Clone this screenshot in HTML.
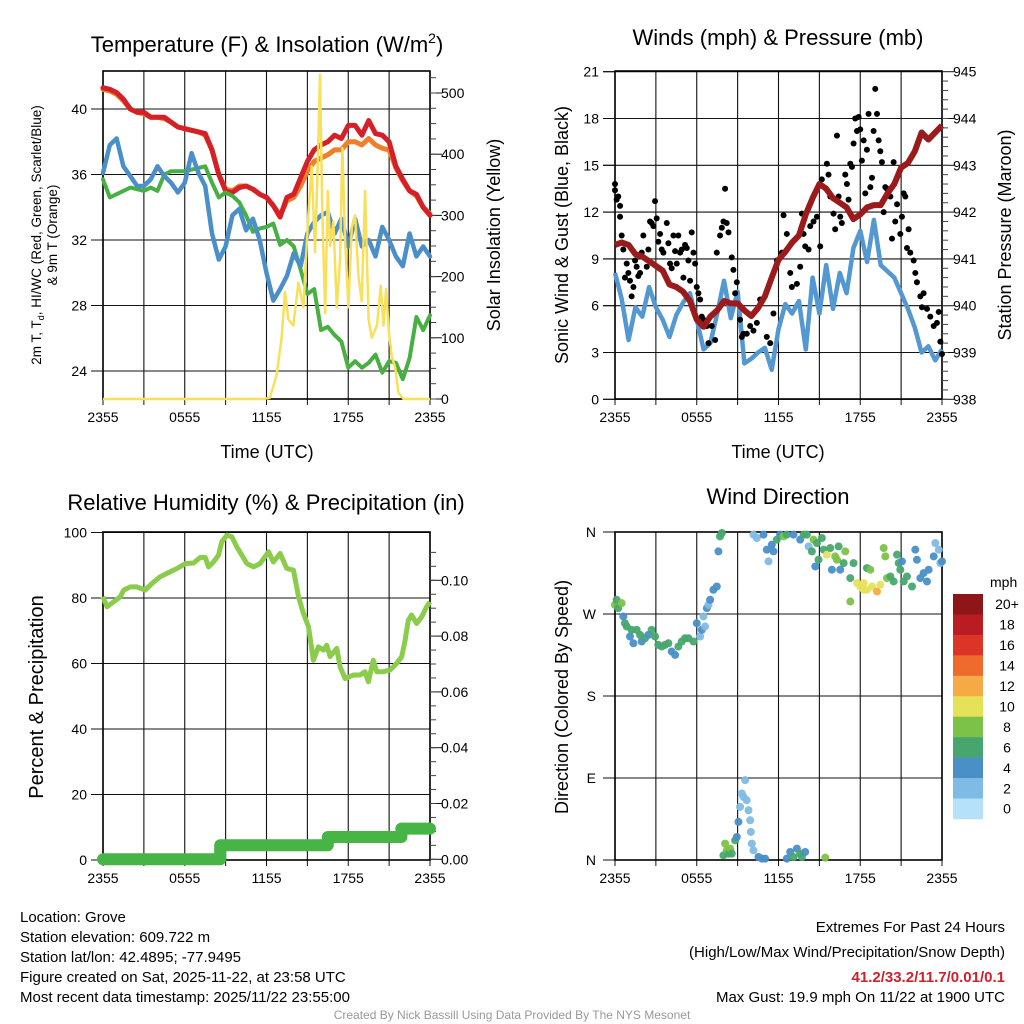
<!DOCTYPE html>
<html><head><meta charset="utf-8">
<style>
html,body{margin:0;padding:0;background:#fff;}
svg{display:block;font-family:"Liberation Sans",Arial,sans-serif;}
</style></head>
<body>
<svg id="fig" width="1024" height="1024" viewBox="0 0 1024 1024" xmlns="http://www.w3.org/2000/svg">
<rect width="1024" height="1024" fill="#fff"/>
<g id="g-tl"></g>
<g id="g-tr"></g>
<g id="g-bl"></g>
<g id="g-br"></g>

<text x="267" y="52" font-size="22" text-anchor="middle">Temperature (F) &amp; Insolation (W/m<tspan font-size="14" dy="-9">2</tspan><tspan dy="9">)</tspan></text>
<text x="778" y="45" font-size="22" text-anchor="middle">Winds (mph) &amp; Pressure (mb)</text>
<text x="266" y="510" font-size="22" text-anchor="middle">Relative Humidity (%) &amp; Precipitation (in)</text>
<text x="778" y="504" font-size="22" text-anchor="middle">Wind Direction</text>

<text transform="translate(41,235) rotate(-90)" font-size="13.5" text-anchor="middle">2m T, T<tspan font-size="9" dy="3">d</tspan><tspan dy="-3">, HI/WC (Red, Green, Scarlet/Blue)</tspan></text>
<text transform="translate(57,235) rotate(-90)" font-size="13.5" text-anchor="middle">&amp; 9m T (Orange)</text>
<text transform="translate(500,235) rotate(-90)" font-size="18" text-anchor="middle">Solar Insolation (Yellow)</text>
<text x="267" y="458" font-size="18" text-anchor="middle">Time (UTC)</text>
<text transform="translate(568,235) rotate(-90)" font-size="18" text-anchor="middle">Sonic Wind &amp; Gust (Blue, Black)</text>
<text transform="translate(1011,235) rotate(-90)" font-size="18" text-anchor="middle">Station Pressure (Maroon)</text>
<text x="778" y="458" font-size="18" text-anchor="middle">Time (UTC)</text>
<text transform="translate(43,697) rotate(-90)" font-size="20" text-anchor="middle">Percent &amp; Precipitation</text>
<text transform="translate(568,697) rotate(-90)" font-size="18" text-anchor="middle">Direction (Colored By Speed)</text>

<g font-size="15">
<text x="20" y="922">Location: Grove</text>
<text x="20" y="942">Station elevation: 609.722 m</text>
<text x="20" y="962">Station lat/lon: 42.4895; -77.9495</text>
<text x="20" y="982">Figure created on Sat, 2025-11-22, at 23:58 UTC</text>
<text x="20" y="1002">Most recent data timestamp: 2025/11/22 23:55:00</text>
</g>
<g font-size="15" text-anchor="end">
<text x="1005" y="932">Extremes For Past 24 Hours</text>
<text x="1005" y="957">(High/Low/Max Wind/Precipitation/Snow Depth)</text>
<text x="1005" y="982" fill="#d0202a" font-weight="bold">41.2/33.2/11.7/0.01/0.1</text>
<text x="1005" y="1002">Max Gust: 19.9 mph On 11/22 at 1900 UTC</text>
</g>
<text x="512" y="1019" font-size="12" fill="#999" text-anchor="middle">Created By Nick Bassill Using Data Provided By The NYS Mesonet</text>
</svg>
<script>
const timeLabels = ["2355","0555","1155","1755","2355"];
const halfHours = [0,0.5,1,1.5,2,2.5,3,3.5,4,4.5,5,5.5,6,6.5,7,7.5,8,8.5,9,9.5,10,10.5,11,11.5,12,12.5,13,13.5,14,14.5,15,15.5,16,16.5,17,17.5,18,18.5,19,19.5,20,20.5,21,21.5,22,22.5,23,23.5,24];
const tempRed = [41.3,41.2,41.0,40.6,40.0,39.8,39.8,39.5,39.5,39.5,39.2,38.9,38.8,38.7,38.6,38.5,37.5,36.0,35.0,34.9,35.2,35.3,35.1,34.8,34.6,34.1,33.4,34.6,34.8,35.8,36.8,37.5,37.8,38.0,38.4,38.2,39.0,39.0,38.4,39.3,38.5,38.4,38.0,36.5,35.7,35.0,34.8,34.0,33.5];
const temp9m = [41.2,41.1,40.9,40.5,40.0,39.8,39.7,39.5,39.5,39.4,39.2,38.9,38.8,38.7,38.6,38.4,37.5,36.0,35.1,35.0,35.3,35.3,35.1,34.8,34.6,34.1,33.5,34.4,34.6,35.3,36.2,36.8,37.0,37.2,37.5,37.5,38.0,38.0,37.8,38.2,37.8,37.6,37.5,36.4,35.6,35.0,34.7,34.0,33.6];
const dewGreen = [35.7,34.6,34.8,35.0,35.2,35.1,35.0,35.2,35.0,36.0,36.2,36.2,36.2,36.3,36.4,36.5,35.5,34.6,34.9,34.7,34.3,33.5,32.5,32.7,32.8,33.0,31.7,32.0,31.6,30.2,28.7,29.0,26.5,26.7,26.2,25.8,24.2,24.6,24.2,24.5,25.0,23.9,24.6,24.5,23.5,24.8,27.3,26.5,27.4];
const windChill = [36.1,37.8,38.2,36.5,35.9,35.3,35.3,35.7,36.5,35.9,35.5,34.9,35.5,37.3,36.1,35.3,32.4,30.8,31.6,33.5,33.9,32.6,33.3,32.0,30.0,28.3,29.0,29.8,31.2,30.4,32.4,33.1,33.5,33.7,32.4,33.3,31.6,33.3,31.6,32.0,31.0,32.8,32.0,31.0,30.4,32.4,31.0,31.6,31.0];
const solarHours = [0,11.76,12.25,12.75,13.11,13.36,13.60,13.97,14.34,14.71,15.07,15.32,15.56,15.76,15.93,16.10,16.31,16.50,16.67,16.91,17.16,17.40,17.57,17.77,18.01,18.26,18.50,18.75,18.99,19.24,19.49,19.73,20.10,20.39,20.59,20.78,20.98,21.20,21.45,21.69,22.06,24];
const solarWm2 = [0,0,2,40,100,175,130,120,190,150,300,380,240,380,530,300,140,340,250,290,150,230,410,260,150,280,300,200,160,340,130,100,120,185,120,180,110,70,50,10,0,0];
const tempTicks = [24,28,32,36,40];
const solarTicks = [0,100,200,300,400,500];

const sonicWind = [8.1,6.4,3.8,5.9,5.3,7.2,5.9,5.1,4.0,5.4,6.2,6.8,5.1,3.2,3.6,5.5,7.6,5.2,6.9,2.3,2.6,3.0,3.3,1.9,4.5,6.1,5.5,6.3,3.2,7.8,5.5,8.6,5.8,8.1,6.8,9.7,10.8,8.8,11.5,8.6,8.2,7.8,6.8,5.8,4.6,3.0,3.4,2.5,3.2];
const pressureMb = [941.30,941.35,941.30,941.10,941.05,940.95,940.85,940.75,940.45,940.40,940.30,940.10,939.70,939.55,939.77,939.90,940.10,940.05,940.05,939.90,939.78,939.95,940.20,940.60,940.98,941.15,941.35,941.50,941.95,942.30,942.60,942.50,942.30,942.20,942.10,941.85,941.95,942.10,942.15,942.15,942.40,942.60,942.95,943.05,943.30,943.70,943.55,943.70,943.85];
const gustHours = [0,0,0.12,0.24,0.37,0.37,0.49,0.61,0.73,0.86,0.98,1.10,1.22,1.35,1.47,1.59,1.71,1.84,1.96,2.08,2.33,2.45,2.57,2.69,2.82,2.94,3.06,3.18,3.31,3.43,3.55,3.80,3.92,4.04,4.16,4.29,4.41,4.53,4.65,4.78,4.90,5.02,5.14,5.27,5.39,5.51,5.63,5.76,5.88,6.00,6.12,6.25,6.37,6.49,6.74,6.86,7.10,7.35,7.47,7.71,7.84,7.96,8.08,8.20,8.33,8.57,8.69,8.82,8.94,9.18,9.31,9.43,9.67,9.92,10.16,10.41,10.65,11.14,11.39,11.63,11.88,12.25,12.37,12.61,12.86,12.98,13.35,13.59,13.72,13.84,13.96,14.21,14.33,14.57,14.82,15.06,15.18,15.55,15.67,15.80,16.04,16.16,16.29,16.41,16.53,16.65,16.90,17.02,17.14,17.27,17.39,17.51,17.63,17.76,17.88,18.00,18.12,18.25,18.37,18.49,18.61,18.74,18.86,18.98,19.10,19.23,19.35,19.47,19.59,19.72,19.84,19.96,20.21,20.33,20.45,20.57,20.70,20.94,21.06,21.19,21.31,21.43,21.55,21.67,21.92,22.04,22.16,22.41,22.53,22.65,22.90,23.14,23.39,23.63,23.76,23.88,24.0];
const gustMph = [13.4,13.8,12.8,13.0,11.7,12.4,10.5,9.6,7.8,8.7,8.1,7.6,6.6,7.2,8.9,8.5,7.9,8.1,9.4,10.5,8.5,9.6,11.4,11.3,11.1,12.7,11.6,10.1,10.6,9.6,9.4,11.3,10.0,8.7,8.4,10.5,9.5,8.7,10.5,9.4,9.6,7.8,9.9,9.7,8.9,7.6,10.7,9.4,8.7,7.2,6.8,6.4,5.3,5.1,4.7,3.6,4.7,3.8,9.4,10.5,11.0,11.4,13.5,11.3,10.7,9.1,8.3,6.8,7.5,5.1,4.0,4.2,4.2,4.7,4.4,4.9,6.4,4.0,3.6,5.5,8.9,9.4,11.8,10.6,8.1,7.2,7.4,8.5,11.9,10.6,9.8,9.6,11.1,11.4,11.7,9.8,14.1,15.1,14.4,13.0,11.9,10.9,16.9,13.0,11.7,11.3,14.4,13.8,12.8,15.1,14.9,16.4,18.0,17.2,18.1,17.3,15.3,16.6,13.2,16.0,18.3,13.6,14.2,17.2,19.9,18.3,16.6,15.9,15.2,12.0,13.6,13.5,13.0,10.3,15.2,11.4,12.5,10.6,11.7,13.2,13.0,9.7,10.9,9.4,8.9,8.1,7.5,6.6,5.9,6.8,5.8,5.3,4.7,4.9,5.6,3.7,2.9];
const windTicks = [0,3,6,9,12,15,18,21];
const pressureTicks = [938,939,940,941,942,943,944,945];

const rhHours = [0,0.29,0.78,1.27,1.52,2.00,2.49,3.10,3.59,4.20,4.94,5.43,6.04,6.65,7.14,7.50,7.75,8.11,8.48,8.72,9.09,9.46,9.82,10.19,10.56,11.05,11.53,12.15,12.51,13.00,13.49,13.98,14.35,14.71,15.08,15.44,15.81,16.18,16.42,16.67,17.16,17.40,17.77,18.38,18.87,19.23,19.48,19.84,20.09,20.58,21.07,21.55,21.92,22.17,22.41,22.65,23.02,23.39,23.75,24.0];
const rhPercent = [80.4,77.3,78.8,80.4,82.4,83.4,83.4,82.4,84.4,86.5,88.0,89.0,90.5,90.7,92.4,92.4,89.5,91.0,93.1,97.2,99.2,98.7,95.6,93.1,90.5,89.5,90.5,94.1,91.0,93.6,89.0,88.5,80.4,75.3,71.2,61.0,65.1,64.1,65.6,62.1,64.6,59.0,55.4,56.5,56.5,57.5,54.4,61.0,57.5,57.5,58.0,60.0,62.1,67.1,73.2,74.8,72.2,74.3,77.3,78.8];
const precipHours = [0,8.6,8.6,16.5,16.5,21.9,21.9,24];
const precipInches = [0,0,0.005,0.005,0.008,0.008,0.011,0.011];
const rhTicks = [0,20,40,60,80,100];
const precipTicks = [0,0.02,0.04,0.06,0.08,0.10];

const dirHours = [0,0.12,0.24,0.49,0.61,0.73,0.86,1.10,1.22,1.35,1.59,1.84,1.96,2.20,2.45,2.69,2.94,3.18,3.43,3.67,3.92,4.16,4.41,4.65,4.90,5.14,5.39,5.76,6.00,6.25,6.37,6.49,6.61,6.74,6.86,6.98,7.22,7.47,7.59,7.71,7.84,
 7.96,8.08,8.20,8.33,8.45,8.57,8.82,8.94,9.06,9.18,9.31,9.43,9.55,9.67,9.80,9.92,9.97,10.04,10.16,10.53,10.78,11.02,12.61,12.86,13.10,13.35,13.59,13.72,13.96,15.43,
 10.16,10.41,10.90,11.14,11.27,11.51,11.63,11.88,12.12,12.37,12.61,13.10,13.59,13.84,14.08,14.21,14.45,14.57,14.82,14.70,14.94,15.18,15.31,15.55,15.80,15.92,16.16,16.29,16.41,16.53,16.78,16.90,17.27,17.51,17.76,18.00,18.25,18.49,18.74,18.86,19.23,19.47,19.72,19.84,19.96,20.21,20.45,20.70,20.82,20.94,21.06,21.19,21.43,21.80,22.04,22.16,22.41,22.65,22.90,23.02,23.39,23.51,23.76,23.88,24.0,17.27,18.25,18.49];
const dirDegrees = [280,285.6,276.4,281.9,267.3,259.9,256.3,245.3,252.6,237.9,252.6,247.1,239.8,243.4,247.1,252.6,245.3,236.1,234.3,236.1,237.9,228.8,225.1,234.3,239.8,243.4,243.4,239.8,259.9,245.3,252.6,267.3,256.3,276.4,280,285.6,296.6,300.2,338.7,355.2,358.9,
 5.1,18.0,10.6,7.0,12.5,7.0,21.6,25.3,41.8,58.3,73.0,69.3,87.6,65.6,54.6,43.6,30.8,18.0,10.6,3.3,1.5,1.5,1.5,8.8,3.3,12.5,7.0,3.3,8.8,2.6,
 357.1,353.4,357.1,340.6,327.7,346.1,338.7,351.6,357.1,355.2,357.1,357.1,351.6,357.1,357.1,344.2,338.7,351.6,347.9,322.2,329.6,353.4,340.6,335.1,342.4,318.6,333.2,329.6,344.2,318.6,325.9,338.7,309.4,325.9,303.9,300.2,296.6,320.4,318.6,300.2,294.7,302.1,342.4,333.2,309.4,311.2,305.7,335.1,325.9,318.6,327.7,305.7,311.2,300.2,340.6,329.6,309.4,314.9,305.7,318.6,333.2,347.9,340.6,325.9,327.7,283.7,303.9,296.6];
const dirSpeed = [8,7,7,8,5,7,7,5,7,5,7,7,5,7,5,7,7,7,7,7,7,5,5,7,7,7,7,7,5,3,5,3,3,5,3,5,5,5,5,7,7,
 7,9,9,7,9,7,7,5,5,3,3,3,3,3,3,3,3,3,3,5,5,5,5,5,7,5,7,7,5,9,
 3,3,5,5,3,5,5,7,5,9,7,5,5,7,7,3,7,9,7,5,7,7,7,11,7,5,9,9,7,5,7,9,7,7,11,11,11,7,9,11,13,11,9,9,9,7,7,7,7,7,5,7,7,7,5,5,5,5,5,5,5,3,3,3,5,9,11,11];
const dirLabels = ["N","E","S","W","N"];
const dirTickDeg = [0,90,180,270,360];
const speedBins = ["0","2","4","6","8","10","12","14","16","18","20+"];
const speedColors = ["#b5e2f8","#7fbbe5","#4a8fc8","#47a66d","#7cc247","#e7e15a","#f6aa46","#ef6a2d","#dc3427","#ba1c24","#8e1619"];

const NS="http://www.w3.org/2000/svg";
function el(tag, attrs, parent){const e=document.createElementNS(NS,tag);for(const k in attrs)e.setAttribute(k,attrs[k]);parent.appendChild(e);return e;}
function lin(d0,d1,r0,r1){return v=>r0+(v-d0)*(r1-r0)/(d1-d0);}
function pathD(xs,ys,fx,fy){return xs.map((x,i)=>(i?'L':'M')+fx(x).toFixed(1)+','+fy(ys[i]).toFixed(1)).join('');}

function frame(g,L,R,T,B,fx,hGridY,name){
  for(let h=0;h<=24;h+=3){
    const ln=el('line',{x1:fx(h),x2:fx(h),y1:T,y2:B,stroke:'#111','stroke-width':1.1},g);
    
    
    const tk=el('line',{x1:fx(h),x2:fx(h),y1:B,y2:B+6,stroke:'#111','stroke-width':1},g);
    
    
  }
  hGridY.forEach(y=>{
    const ln=el('line',{x1:L-12,x2:R,y1:y,y2:y,stroke:'#111','stroke-width':1.1},g);
    
    
  });
  el('rect',{x:L,y:T,width:R-L,height:B-T,fill:'none',stroke:'#000','stroke-width':1.6},g);
  timeLabels.forEach((t,i)=>{
    const tx=el('text',{x:fx(i*6),y:B+23,'font-size':14,'text-anchor':'middle'},g);
    
    
    tx.textContent=t;
  });
}
function leftTicks(g,L,ticks,fy,fmt){
  ticks.forEach(v=>{
    el('line',{x1:L-12,x2:L,y1:fy(v),y2:fy(v),stroke:'#111','stroke-width':1},g);
    const t=el('text',{x:L-16,y:fy(v)+5,'font-size':14,'text-anchor':'end'},g);
    
    
    t.textContent=fmt?fmt(v):v;
  });
}
function rightTicks(g,R,ticks,fy,fmt,minor){
  ticks.forEach(v=>{
    el('line',{x1:R,x2:R+12,y1:fy(v),y2:fy(v),stroke:'#111','stroke-width':1},g);
    const t=el('text',{x:R+11,y:fy(v)+5,'font-size':14,'text-anchor':'start'},g);
    
    
    t.textContent=fmt?fmt(v):v;
  });
  minor.forEach(v=>{el('line',{x1:R,x2:R+6,y1:fy(v),y2:fy(v),stroke:'#444','stroke-width':1},g);});
}

(function(){
  const g=document.getElementById('g-tl');
  const L=103,R=430,T=71,B=399;
  const fx=lin(0,24,L,R), fy=lin(40,24,109,371), fs=lin(0,500,399,93);
  frame(g,L,R,T,B,fx,tempTicks.map(fy));
  leftTicks(g,L,tempTicks,fy);
  const mn=[];for(let v=0;v<=525;v+=25)mn.push(v);
  rightTicks(g,R,solarTicks,fs,null,mn);
  [[temp9m,'#f07f2c',5,'temp-9m-line'],[tempRed,'#d42026',5,'temp-2m-line'],[dewGreen,'#48b043',4,'dewpoint-line'],[windChill,'#4b8fc9',4.5,'windchill-line']].forEach(s=>{
    const p=el('path',{d:pathD(halfHours,s[0],fx,fy),fill:'none',stroke:s[1],'stroke-width':s[2],'stroke-linejoin':'round','stroke-linecap':'round'},g);
    
    
  });
  const p=el('path',{d:pathD(solarHours,solarWm2,fx,fs),fill:'none',stroke:'#f8e05a','stroke-width':2.5,'stroke-linejoin':'round'},g);
  
  
})();

(function(){
  const g=document.getElementById('g-tr');
  const L=615,R=942,T=71,B=399;
  const fx=lin(0,24,L,R), fy=lin(0,21,399.3,71.7), fp=lin(938,945,399.3,71.7);
  frame(g,L,R,T,B,fx,windTicks.map(fy));
  leftTicks(g,L,windTicks,fy);
  const mn=[];for(let v=938;v<=945;v+=0.2)mn.push(v);
  rightTicks(g,R,pressureTicks,fp,null,mn);
  const b=el('path',{d:pathD(halfHours,sonicWind,fx,fy),fill:'none',stroke:'#5398d0','stroke-width':4.5,'stroke-linejoin':'round'},g);
  
  
  gustHours.forEach((h,i)=>{
    const c=el('circle',{cx:fx(h),cy:fy(gustMph[i]),r:3,fill:'#000'},g);
    
    
  });
  const p=el('path',{d:pathD(halfHours,pressureMb,fx,fp),fill:'none',stroke:'#9b1a1c','stroke-width':6,'stroke-linejoin':'round'},g);
  
  
})();

(function(){
  const g=document.getElementById('g-bl');
  const L=103,R=430,T=532,B=860;
  const fx=lin(0,24,L,R), fy=lin(0,100,860,532.5), fp=lin(0,0.10,859.3,580.3);
  frame(g,L,R,T,B,fx,rhTicks.map(fy));
  leftTicks(g,L,rhTicks,fy);
  const mn=[];for(let v=0;v<=0.115;v+=0.005)mn.push(v);
  rightTicks(g,R,precipTicks,fp,v=>v.toFixed(2),mn);
  const r=el('path',{d:pathD(rhHours,rhPercent,fx,fy),fill:'none',stroke:'#8ccc4c','stroke-width':5,'stroke-linejoin':'round'},g);
  
  
  const p=el('path',{d:pathD(precipHours,precipInches,fx,fp),fill:'none',stroke:'#47b446','stroke-width':12,'stroke-linejoin':'round','stroke-linecap':'round'},g);
  
  
})();

(function(){
  const g=document.getElementById('g-br');
  const L=615,R=942,T=532,B=860;
  const fx=lin(0,24,L,R), fy=lin(0,360,860,532);
  frame(g,L,R,T,B,fx,dirTickDeg.map(fy));
  dirTickDeg.forEach((d,i)=>{
    const t=el('text',{x:L-19,y:fy(d)+5,'font-size':14,'text-anchor':'end'},g);
    
    
    t.textContent=dirLabels[i];
  });
  dirHours.forEach((h,i)=>{
    const bin=Math.min(10,Math.floor(dirSpeed[i]/2));
    const c=el('circle',{cx:fx(h),cy:fy(dirDegrees[i]),r:4,fill:speedColors[bin],opacity:0.95},g);
    
    
  });
  const lg=el('g',{},g);
  
  
  const t=el('text',{x:990,y:587,'font-size':14,'text-anchor':'start'},lg);
  t.textContent='mph';
  const top=594,bh=20.45;
  for(let i=0;i<11;i++){
    const k=10-i;
    const y=top+i*bh;
    const r=el('rect',{x:953,y:y,width:30,height:bh+0.3,fill:speedColors[k]},lg);
    
    
    const tx=el('text',{x:1007,y:y+bh/2+5,'font-size':14,'text-anchor':'middle'},lg);
    
    
    tx.textContent=speedBins[k];
  }
})();
</script>
</body></html>
